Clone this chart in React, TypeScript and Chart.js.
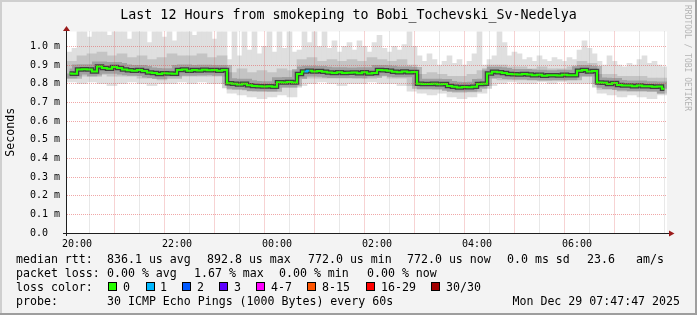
import React, { useEffect, useRef } from 'react';
import { Chart, registerables } from 'chart.js';

Chart.register(...registerables);

const FONT = "'DejaVu Sans Mono', 'Liberation Mono', monospace";

// time axis: minutes since 19:48 (left edge of plot), 12 hours = 720 minutes
const X_MIN = 0;
const X_MAX = 720;
const MEDIAN_STEP = 6; // minutes per median / max column
const BAND_STEP = 12; // minutes per min / mid-band column

// median RTT (ms), one value per 6 minutes
const median = [
  0.855, 0.853, 0.876, 0.878, 0.876, 0.866, 0.892, 0.885, 0.881, 0.89,
  0.884, 0.876, 0.872, 0.87, 0.874, 0.868, 0.86, 0.857, 0.852, 0.856,
  0.855, 0.853, 0.874, 0.876, 0.87, 0.873, 0.871, 0.875, 0.872, 0.873,
  0.87, 0.873, 0.803, 0.8, 0.796, 0.8, 0.792, 0.788, 0.786, 0.785,
  0.787, 0.784, 0.808, 0.807, 0.81, 0.806, 0.852, 0.866, 0.87, 0.866,
  0.868, 0.864, 0.86, 0.858, 0.862, 0.857, 0.859, 0.86, 0.856, 0.862,
  0.855, 0.858, 0.874, 0.872, 0.87, 0.864, 0.862, 0.865, 0.861, 0.863,
  0.8, 0.798, 0.799, 0.8, 0.797, 0.799, 0.788, 0.784, 0.78, 0.783,
  0.781, 0.784, 0.799, 0.8, 0.855, 0.864, 0.862, 0.858, 0.852, 0.851,
  0.85, 0.852, 0.849, 0.846, 0.848, 0.843, 0.845, 0.846, 0.844, 0.848,
  0.845, 0.846, 0.87, 0.874, 0.866, 0.868, 0.806, 0.805, 0.798, 0.804,
  0.793, 0.79, 0.791, 0.787, 0.79, 0.786, 0.786, 0.784, 0.785, 0.773,
];

// highest ping per 6-minute column (ms); values above the axis top are clipped
const smokeMax = [
  0.97, 0.99, 1.1, 1.1, 1.05, 1.1, 1.1, 1.1, 1.06, 1.1,
  1.1, 1.1, 1.04, 1.1, 1.1, 1.1, 1.02, 1.1, 1.1, 1.05,
  1.1, 1.03, 1.1, 1.1, 1.1, 1.06, 1.1, 1.1, 1.1, 1.04,
  1.1, 1.1, 0.93, 1.1, 0.95, 1.1, 0.98, 1.1, 0.96, 1.0,
  1.1, 0.97, 1.1, 0.99, 1.1, 0.97, 0.98, 1.1, 1.02, 1.1,
  1.0, 1.1, 0.99, 1.03, 0.97, 1.0, 1.02, 0.98, 1.03, 1.0,
  0.97, 1.02, 1.06, 0.99, 0.97, 1.0, 0.98, 1.01, 1.1, 1.0,
  0.95, 0.92, 0.96, 0.93, 0.9, 0.92, 0.95, 0.91, 0.93, 0.9,
  0.92, 0.96, 1.1, 0.9, 0.93, 0.95, 1.1, 1.02, 0.95, 0.97,
  0.96, 0.93, 0.94, 0.92, 0.95, 0.93, 0.92, 0.94, 0.93, 0.92,
  0.94, 0.93, 0.98, 1.03, 0.99, 0.96, 0.92, 0.9, 0.95, 0.92,
  0.9, 0.89, 0.91, 0.9, 0.93, 0.95, 0.91, 0.92, 0.9, 0.89,
];

// lowest ping per 12-minute column (ms)
const smokeMin = [
  0.81, 0.8, 0.81, 0.8, 0.79, 0.8, 0.81, 0.8, 0.79, 0.8,
  0.8, 0.81, 0.8, 0.81, 0.8, 0.8, 0.75, 0.74, 0.73, 0.72,
  0.73, 0.74, 0.73, 0.79, 0.8, 0.81, 0.8, 0.79, 0.8, 0.8,
  0.81, 0.8, 0.8, 0.79, 0.76, 0.75, 0.74, 0.75, 0.73, 0.72,
  0.73, 0.75, 0.79, 0.8, 0.81, 0.8, 0.8, 0.81, 0.8, 0.81,
  0.8, 0.8, 0.8, 0.75, 0.74, 0.73, 0.74, 0.73, 0.72, 0.74,
];

// denser middle part of the smoke per 12-minute column (ms)
const midLo = [
  0.83, 0.84, 0.84, 0.85, 0.84, 0.84, 0.84, 0.83, 0.83, 0.82,
  0.84, 0.84, 0.84, 0.84, 0.84, 0.84, 0.77, 0.77, 0.76, 0.76,
  0.76, 0.78, 0.78, 0.83, 0.83, 0.83, 0.83, 0.83, 0.83, 0.83,
  0.84, 0.84, 0.83, 0.83, 0.79, 0.77, 0.77, 0.77, 0.76, 0.76,
  0.76, 0.78, 0.83, 0.82, 0.82, 0.82, 0.82, 0.82, 0.82, 0.82,
  0.82, 0.84, 0.84, 0.77, 0.77, 0.76, 0.76, 0.76, 0.76, 0.75,
];
const midHi = [
  0.92, 0.95, 0.96, 0.97, 0.95, 0.96, 0.94, 0.95, 0.93, 0.94,
  0.96, 0.95, 0.95, 0.96, 0.94, 0.95, 0.86, 0.88, 0.86, 0.87,
  0.86, 0.88, 0.87, 0.93, 0.94, 0.92, 0.93, 0.92, 0.93, 0.92,
  0.94, 0.93, 0.92, 0.93, 0.9, 0.85, 0.86, 0.85, 0.84, 0.84,
  0.85, 0.87, 0.9, 0.9, 0.89, 0.89, 0.88, 0.89, 0.88, 0.88,
  0.89, 0.92, 0.91, 0.85, 0.85, 0.84, 0.84, 0.84, 0.83, 0.83,
];

// columns with packet loss (index into median) and number of lost pings
const lossColumns = [47];
const lossCounts = [1];

const yTickValues = [0, 0.1, 0.2, 0.3, 0.4, 0.5, 0.6, 0.7, 0.8, 0.9, 1.0];
const Y_MAX = 1.08;
const gridMinutes = [
  12, 42, 72, 102, 132, 162, 192, 222, 252, 282, 312, 342,
  372, 402, 432, 462, 492, 522, 552, 582, 612, 642, 672, 702,
];
const labelMinutes = [12, 132, 252, 372, 492, 612];
const labelTexts = ['20:00', '22:00', '00:00', '02:00', '04:00', '06:00'];

const lossColors = ['#26ff00', '#00b8ff', '#0059ff', '#5e00ff', '#ff00ff', '#ff5500', '#ff0000', '#a10000'];
const lossLabels = ['0', '1', '2', '3', '4-7', '8-15', '16-29', '30/30'];

const titleText = 'Last 12 Hours from smokeping to Bobi_Tochevski_Sv-Nedelya';
const rttRow = ['median rtt:', '836.1 us avg', '892.8 us max', '772.0 us min', '772.0 us now', '0.0 ms sd', '23.6', 'am/s'];
const lossRow = ['packet loss:', '0.00 % avg', '1.67 % max', '0.00 % min', '0.00 % now'];
const lossColorTitle = 'loss color:';
const probeRow = ['probe:', '30 ICMP Echo Pings (1000 Bytes) every 60s'];
const timestampText = 'Mon Dec 29 07:47:47 2025';
const watermarkText = 'RRDTOOL / TOBI OETIKER';

const GRID_RED = 'rgba(225, 80, 80, 0.5)';
const GRID_GRAY = 'rgba(140, 140, 140, 0.4)';

function lossColorFor(i: number): string {
  const k = lossColumns.indexOf(i);
  if (k < 0) return lossColors[0];
  const n = lossCounts[k];
  if (n <= 3) return lossColors[n];
  if (n <= 7) return lossColors[4];
  if (n <= 15) return lossColors[5];
  if (n <= 29) return lossColors[6];
  return lossColors[7];
}

const framePlugin = {
  id: 'smokepingFrame',
  beforeDraw(chart: any) {
    const { ctx, chartArea: a, width, height } = chart;
    ctx.save();
    ctx.fillStyle = '#f3f3f3';
    ctx.fillRect(0, 0, width, height);
    ctx.fillStyle = '#ffffff';
    ctx.fillRect(a.left, a.top, a.right - a.left, a.bottom - a.top);
    ctx.fillStyle = '#cfcfcf';
    ctx.fillRect(0, 0, width, 2);
    ctx.fillRect(0, 0, 2, height);
    ctx.fillStyle = '#9e9e9e';
    ctx.fillRect(0, height - 2, width, 2);
    ctx.fillRect(width - 2, 0, 2, height);
    ctx.restore();
  },
  afterDraw(chart: any) {
    const { ctx, chartArea: a, width } = chart;
    ctx.save();
    // axes
    ctx.strokeStyle = '#1e1e1e';
    ctx.lineWidth = 1;
    ctx.beginPath();
    ctx.moveTo(a.left - 0.5, a.bottom + 3);
    ctx.lineTo(a.left - 0.5, a.top - 1);
    ctx.moveTo(a.left - 4, a.bottom + 0.5);
    ctx.lineTo(a.right + 2, a.bottom + 0.5);
    ctx.stroke();
    // arrows
    ctx.fillStyle = '#9b1b1b';
    ctx.beginPath();
    ctx.moveTo(a.left - 4, a.top - 0.5);
    ctx.lineTo(a.left + 3, a.top - 0.5);
    ctx.lineTo(a.left - 0.5, a.top - 5.5);
    ctx.closePath();
    ctx.fill();
    ctx.beginPath();
    ctx.moveTo(a.right + 2, a.bottom - 2.5);
    ctx.lineTo(a.right + 2, a.bottom + 3.5);
    ctx.lineTo(a.right + 7.5, a.bottom + 0.5);
    ctx.closePath();
    ctx.fill();

    // title
    ctx.fillStyle = '#000';
    ctx.font = `13.3px ${FONT}`;
    ctx.textAlign = 'center';
    ctx.textBaseline = 'alphabetic';
    ctx.fillText(titleText, width / 2, 18.5);

    // legend
    ctx.font = `11.6px ${FONT}`;
    ctx.textAlign = 'left';
    const rttX = [16, 107, 207, 308, 407, 507, 587, 636];
    rttRow.forEach((t, i) => ctx.fillText(t, rttX[i], 262.5));
    const lossX = [16, 107, 194, 279, 367];
    lossRow.forEach((t, i) => ctx.fillText(t, lossX[i], 276.5));
    ctx.fillText(lossColorTitle, 16, 290.5);
    const boxX = [108, 146, 182, 219, 256, 307, 366, 431];
    const boxLabelX = [123, 160, 197, 234, 271, 322, 381, 446];
    lossColors.forEach((c, i) => {
      ctx.fillStyle = c;
      ctx.fillRect(boxX[i], 282, 9, 9);
      ctx.strokeStyle = '#000';
      ctx.strokeRect(boxX[i] + 0.5, 282.5, 8, 8);
      ctx.fillStyle = '#000';
      ctx.fillText(lossLabels[i], boxLabelX[i], 290.5);
    });
    ctx.fillText(probeRow[0], 16, 304.5);
    ctx.fillText(probeRow[1], 107, 304.5);
    ctx.textAlign = 'right';
    ctx.fillText(timestampText, 680, 304.5);

    // watermark
    ctx.translate(687, 5);
    ctx.rotate(Math.PI / 2);
    ctx.font = `8px ${FONT}`;
    ctx.fillStyle = '#b4b4b4';
    ctx.textAlign = 'left';
    ctx.textBaseline = 'middle';
    ctx.fillText(watermarkText, 0, 0);
    ctx.restore();
  },
};

export default function App() {
  const canvasRef = useRef<HTMLCanvasElement | null>(null);

  useEffect(() => {
    const canvas = canvasRef.current;
    if (!canvas) return;
    Chart.defaults.font.family = FONT;
    Chart.defaults.color = '#000';

    const medianPoints = median.map((v, i) => ({ x: i * MEDIAN_STEP + MEDIAN_STEP / 2, y: v }));
    const lightBars = smokeMax.map((hi, i) => ({
      x: i * MEDIAN_STEP + MEDIAN_STEP / 2,
      y: [smokeMin[Math.floor((i * MEDIAN_STEP) / BAND_STEP)], hi],
    }));
    const midBars = midLo.map((lo, j) => ({ x: j * BAND_STEP + BAND_STEP / 2, y: [lo, midHi[j]] }));

    const chart = new Chart(canvas, {
      type: 'bar',
      data: {
        datasets: [
          {
            type: 'line',
            label: 'median',
            data: medianPoints,
            borderColor: lossColors[0],
            borderWidth: 2,
            pointRadius: 0,
            stepped: 'middle',
            order: 0,
            segment: { borderColor: (c: any) => lossColorFor(c.p0DataIndex) },
          } as any,
          {
            type: 'line',
            label: 'median shade',
            data: medianPoints,
            borderColor: 'rgba(0,0,0,0.6)',
            borderWidth: 4.5,
            pointRadius: 0,
            stepped: 'middle',
            order: 1,
          } as any,
          {
            type: 'line',
            label: 'median halo',
            data: medianPoints,
            borderColor: 'rgba(0,0,0,0.18)',
            borderWidth: 10,
            pointRadius: 0,
            stepped: 'middle',
            order: 2,
          } as any,
          {
            type: 'bar',
            label: 'smoke mid',
            data: midBars as any,
            backgroundColor: '#c4c4c4',
            barThickness: 10,
            stack: 'smoke',
            order: 3,
            clip: 0,
          } as any,
          {
            type: 'bar',
            label: 'smoke',
            data: lightBars as any,
            backgroundColor: '#dfdfdf',
            barThickness: 5,
            stack: 'smoke',
            order: 4,
            clip: 0,
          } as any,
        ],
      },
      options: {
        animation: false,
        responsive: false,
        devicePixelRatio: 1,
        events: [],
        layout: { padding: { top: 31.5, right: 30, left: 0, bottom: 0 } },
        plugins: {
          legend: { display: false },
          tooltip: { enabled: false },
          title: { display: false },
        },
        scales: {
          x: {
            type: 'linear',
            min: X_MIN,
            max: X_MAX,
            stacked: true,
            offset: false,
            afterBuildTicks: (scale: any) => {
              scale.ticks = gridMinutes.map((v) => ({ value: v }));
            },
            afterFit: (scale: any) => {
              scale.height = 82;
            },
            grid: {
              z: 1,
              drawTicks: false,
              color: (c: any) => (c.tick && (c.tick.value - labelMinutes[0]) % 60 === 0 ? GRID_RED : GRID_GRAY),
              lineWidth: 1,
            },
            border: { display: false, dash: [1, 1] },
            ticks: {
              autoSkip: false,
              maxRotation: 0,
              padding: 5,
              font: { family: FONT, size: 10 },
              color: '#000',
              callback: (v: any) => {
                const k = labelMinutes.indexOf(Number(v));
                return k >= 0 ? labelTexts[k] : '';
              },
            },
          },
          y: {
            type: 'linear',
            min: 0,
            max: Y_MAX,
            stacked: false,
            afterBuildTicks: (scale: any) => {
              scale.ticks = yTickValues.map((v) => ({ value: v }));
            },
            afterFit: (scale: any) => {
              scale.width = 67;
            },
            grid: { z: 1, drawTicks: false, color: GRID_RED, lineWidth: 1 },
            border: { display: false, dash: [1, 1] },
            title: {
              display: true,
              text: 'Seconds',
              color: '#000',
              font: { family: FONT, size: 11.6 },
              padding: { top: 4, bottom: 0 },
            },
            ticks: {
              autoSkip: false,
              padding: 7,
              font: { family: FONT, size: 10 },
              color: '#000',
              callback: (v: any) => (Number(v) === 0 ? '0.0  ' : `${Number(v).toFixed(1)} m`),
            },
          },
        },
      } as any,
      plugins: [framePlugin],
    });

    return () => chart.destroy();
  }, []);

  return (
    <div style={{ position: 'absolute', left: 0, top: 0, width: 697, height: 315 }}>
      <canvas ref={canvasRef} width={697} height={315} style={{ display: 'block', width: 697, height: 315 }} />
    </div>
  );
}
